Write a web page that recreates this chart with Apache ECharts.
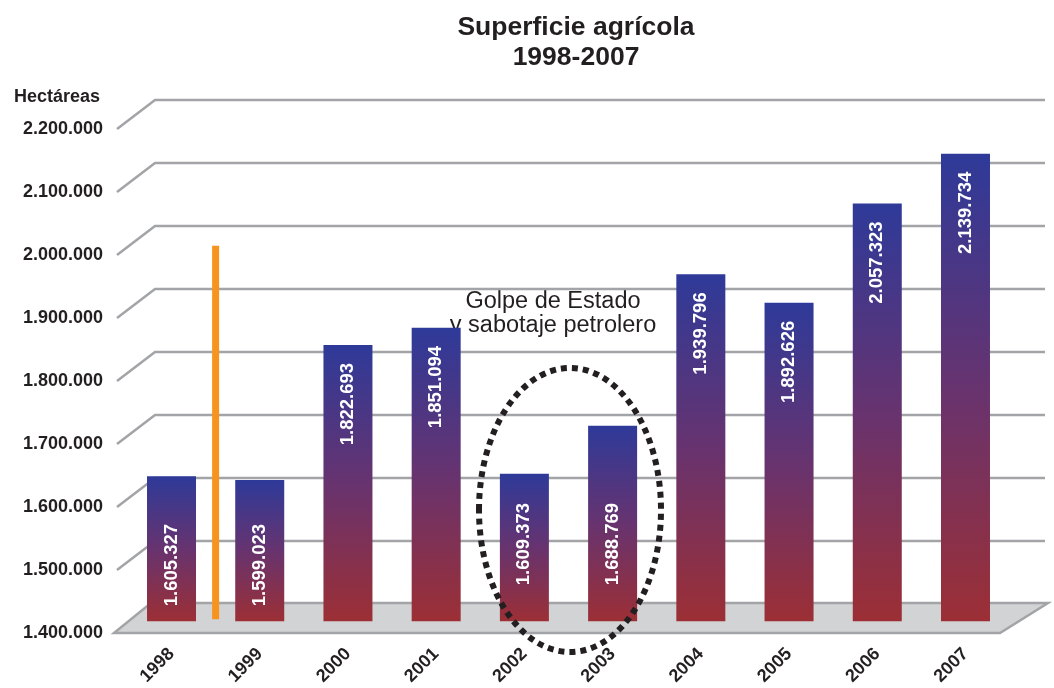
<!DOCTYPE html>
<html><head><meta charset="utf-8">
<script src="https://cdn.jsdelivr.net/npm/echarts@6/dist/echarts.min.js"></script>
<style>html,body{margin:0;padding:0;background:#fff}#c{width:1054px;height:688px}</style>
</head><body><div id="c"></div>
<script>
// ---- data ----
const years = ['1998','1999','2000','2001','2002','2003','2004','2005','2006','2007'];
const superficie = [1605327, 1599023, 1822693, 1851094, 1609373, 1688769, 1939796, 1892626, 2057323, 2139734];
const yTicks = [1400000, 1500000, 1600000, 1700000, 1800000, 1900000, 2000000, 2100000, 2200000];
const markerValue = 1987000;   // orange vertical marker between 1998 and 1999
const markerCategory = 0;
const titleText = 'Superficie agrícola\n1998-2007';
const unitText = 'Hectáreas';
const noteText = 'Golpe de Estado\ny sabotaje petrolero';

// ---- helpers ----
const FONT = '"Liberation Sans", Arial, Helvetica, sans-serif';
const TXT = '#231F20';
const fmt = v => String(v).replace(/\B(?=(\d{3})+(?!\d))/g, '.');
const DEPTH_X = 38, DEPTH_Y = 29;

function labelFor(i, v) {
  const base = { show: true, rotate: 90, color: '#fff', fontFamily: FONT, fontWeight: 'bold', fontSize: 18.5,
                 verticalAlign: 'middle', formatter: p => fmt(p.value) };
  if (v > 1800000) return Object.assign(base, { position: 'insideTop', align: 'right', distance: 18 });
  if (i === 4 || i === 5) return Object.assign(base, { position: 'insideBottom', align: 'left', distance: 36 });
  return Object.assign(base, { position: 'insideBottom', align: 'left', distance: 15 });
}

const chart = echarts.init(document.getElementById('c'), null, { renderer: 'canvas' });
chart.setOption({
  animation: false,
  backgroundColor: '#fff',
  title: {
    text: titleText, left: 571, top: 8, textAlign: 'center',
    textStyle: { fontFamily: FONT, fontSize: 26.5, fontWeight: 'bold', color: TXT, lineHeight: 30 }
  },
  grid: [
    { left: 127.4, right: 44.4, top: 117.3, bottom: 63 },   // bars
    { left: 117, right: 9, top: 129, bottom: 55 }           // front scale, gridlines, floor
  ],
  xAxis: [
    { type: 'category', gridIndex: 0, data: years,
      axisLine: { show: false }, axisTick: { show: false },
      axisLabel: { rotate: 45, margin: 30, color: TXT, fontFamily: FONT, fontWeight: 'bold', fontSize: 18 } },
    { type: 'value', gridIndex: 1, min: 0, max: 1, show: false }
  ],
  yAxis: [
    { type: 'value', gridIndex: 0, min: 1365000, max: 2200000, show: false, splitLine: { show: false } },
    { type: 'value', gridIndex: 1, min: 1400000, max: 2200000, interval: 100000,
      axisLine: { show: false }, axisTick: { show: false }, splitLine: { show: false },
      axisLabel: { margin: 14, color: TXT, fontFamily: FONT, fontWeight: 'bold', fontSize: 18, formatter: v => fmt(v) } }
  ],
  graphic: [
    { type: 'text', left: 14, top: 88, style: { text: unitText, fill: TXT, font: 'bold 18px ' + FONT } },
    { type: 'text', x: 553, y: 290, style: { text: noteText, fill: TXT, font: '23.5px ' + FONT, textAlign: 'center', lineHeight: 24 } },
    { type: 'ellipse', z: 100, shape: { cx: 570, cy: 510, rx: 91, ry: 142 },
      style: { fill: 'none', stroke: '#231F20', lineWidth: 6, lineDash: [6, 5] } }
  ],
  series: [
    { // floor
      type: 'custom', xAxisIndex: 1, yAxisIndex: 1, z: 0, silent: true,
      data: [[0, yTicks[0]]],
      renderItem: (params, api) => {
        const l = api.coord([0, api.value(1)]);
        const r = api.coord([1, api.value(1)]);
        return { type: 'polygon',
          shape: { points: [[l[0] - 3, l[1]], [r[0] - 45, l[1]], [r[0] + 3, l[1] - 30], [l[0] + 34, l[1] - 30]] },
          style: { fill: '#D1D3D4', stroke: '#A2A4A7', lineWidth: 2.5 } };
      }
    },
    { // slanted gridlines
      type: 'custom', xAxisIndex: 1, yAxisIndex: 1, z: 1, silent: true,
      data: yTicks.slice(1).map(v => [0, v]),
      renderItem: (params, api) => {
        const l = api.coord([0, api.value(1)]);
        const r = api.coord([1, api.value(1)]);
        return { type: 'polyline',
          shape: { points: [[l[0], l[1]], [l[0] + DEPTH_X, l[1] - DEPTH_Y], [r[0], r[1] - DEPTH_Y]] },
          style: { fill: 'none', stroke: '#A2A4A7', lineWidth: 2.5 } };
      }
    },
    { // bars
      type: 'bar', xAxisIndex: 0, yAxisIndex: 0, z: 2, barWidth: 49,
      itemStyle: { color: new echarts.graphic.LinearGradient(0, 0, 0, 1, [
        { offset: 0, color: '#2E3A99' }, { offset: 0.5, color: '#67336F' }, { offset: 1, color: '#9C2F35' }]) },
      data: superficie.map((v, i) => ({ value: v, label: labelFor(i, v) }))
    },
    { // orange marker
      type: 'custom', xAxisIndex: 0, yAxisIndex: 0, z: 3, silent: true,
      data: [[markerCategory, markerValue]],
      renderItem: (params, api) => {
        const p = api.coord([api.value(0), api.value(1)]);
        const b = api.coord([api.value(0), 1365000]);
        const half = api.size([1, 0])[0] / 2;
        return { type: 'rect', shape: { x: p[0] + half - 3.5, y: p[1], width: 7, height: b[1] - p[1] - 2 },
          style: { fill: '#F7941D' } };
      }
    }
  ]
});
</script></body></html>
